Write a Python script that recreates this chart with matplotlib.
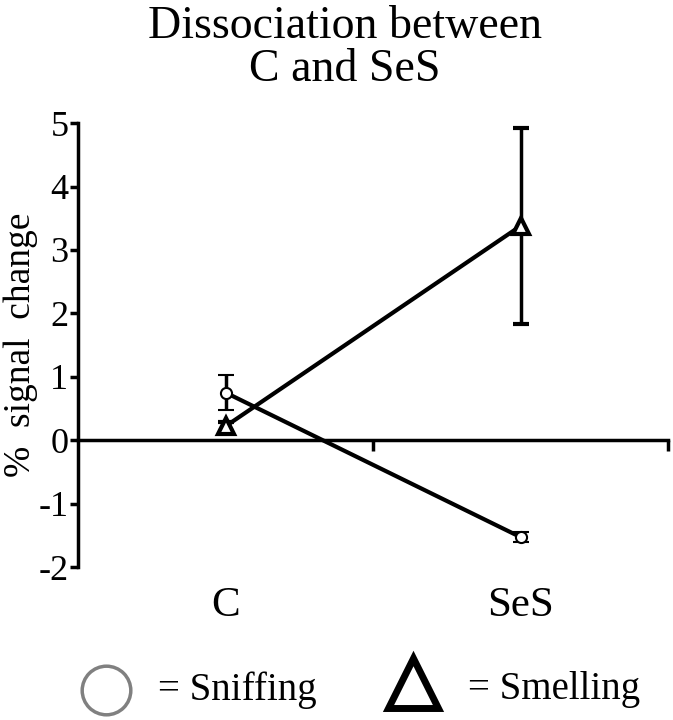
import matplotlib
matplotlib.use("Agg")
import matplotlib.pyplot as plt
from matplotlib.lines import Line2D

plt.rcParams["font.family"] = ["Liberation Serif", "DejaVu Serif"]

categories = ["C", "SeS"]
cat_pos = [0.5, 1.5]
sniffing = [0.75, -1.53]
sniffing_err = [0.28, 0.08]
smelling = [0.22, 3.38]
smelling_err = [0.07, 1.54]
yticks = [-2, -1, 0, 1, 2, 3, 4, 5]

fig = plt.figure(figsize=(6.73, 7.2), dpi=100)
ax = fig.add_axes([0.116, 0.2125, 0.877, 0.6165])

ax.errorbar(cat_pos, sniffing, yerr=sniffing_err, color="black", lw=3,
            elinewidth=2.5, capsize=6, capthick=3, marker="o", ms=8,
            mfc="white", mec="black", mew=1.5, zorder=3)
ax.errorbar(cat_pos, smelling, yerr=smelling_err, color="black", lw=3,
            elinewidth=2.5, capsize=6, capthick=3, marker="^", ms=11,
            mfc="white", mec="black", mew=3, zorder=3)

ax.set_xlim(0, 2)
ax.set_ylim(-2, 5)
ax.spines["top"].set_visible(False)
ax.spines["right"].set_visible(False)
ax.spines["bottom"].set_position(("data", 0))
ax.spines["left"].set_linewidth(2.5)
ax.spines["bottom"].set_linewidth(2.5)
ax.set_xticks([1, 2])
ax.set_xticklabels([])
ax.tick_params(axis="x", direction="out", length=8, width=2.5)
ax.set_yticks(yticks)
ax.set_yticklabels([str(t) for t in yticks], fontsize=26)
ax.tick_params(axis="y", direction="out", length=6, width=2.5, pad=1)
ax.set_ylabel("%  signal  change", fontsize=27, labelpad=0)

for x, lab in zip(cat_pos, categories):
    ax.text(x, -0.045, lab, transform=ax.get_xaxis_transform(), ha="center",
            va="top", fontsize=31)

fig.text(0.513, 0.992, "Dissociation between\nC and SeS", ha="center",
         va="top", fontsize=33, linespacing=1.02)

# legend drawn at figure level
fig.add_artist(Line2D([0.157], [0.042], marker="o", ms=35, mfc="none",
                      mec="#808080", mew=2.5, transform=fig.transFigure))
fig.text(0.235, 0.042, "= Sniffing", fontsize=28, va="center")
fig.add_artist(Line2D([0.613], [0.052], marker="^", ms=36, mfc="none",
                      mec="black", mew=5, transform=fig.transFigure))
fig.text(0.695, 0.042, "= Smelling", fontsize=28, va="center")

fig.savefig("out.png", dpi=100)
